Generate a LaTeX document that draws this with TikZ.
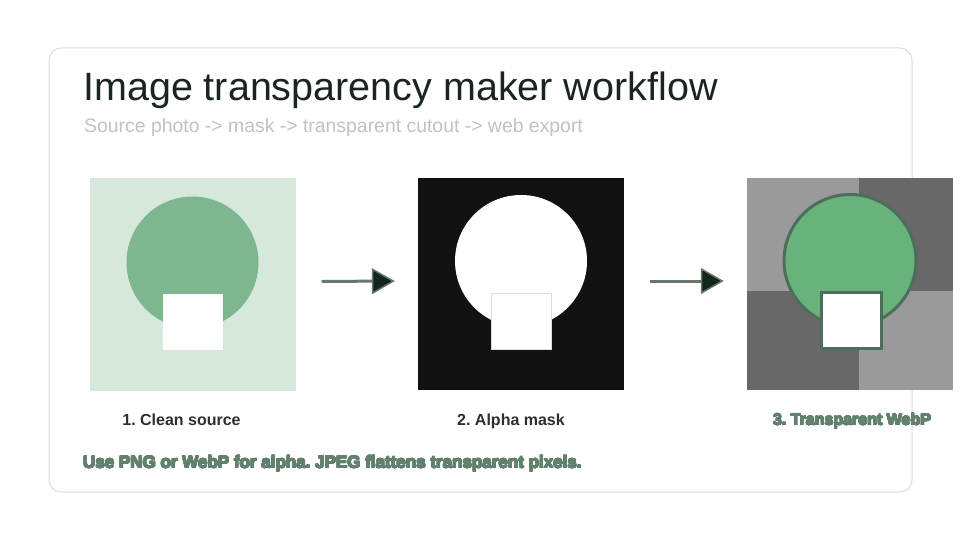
\documentclass[tikz,border=0pt]{standalone}
\usepackage{fontspec}
\setmainfont{Liberation Sans}
\usepackage[copies]{contour}
\contourlength{0.5pt}
\contournumber{16}
\usepackage{tikz}
\usetikzlibrary{arrows.meta, positioning}
\frenchspacing

\definecolor{cardline}{HTML}{DCDCDC}
\definecolor{titleink}{HTML}{1B2520}
\definecolor{subink}{HTML}{C2C2C2}
\definecolor{srcbg}{HTML}{D6E7DC}
\definecolor{srcleaf}{HTML}{7DB68F}
\definecolor{maskbg}{HTML}{121212}
\definecolor{checklight}{HTML}{9A9A9A}
\definecolor{checkdark}{HTML}{686868}
\definecolor{cutleaf}{HTML}{68B27C}
\definecolor{cutedge}{HTML}{4E6E5C}
\definecolor{arrowline}{HTML}{66786C}
\definecolor{arrowhead}{HTML}{13261C}
\definecolor{labelink}{HTML}{2B302D}
\definecolor{noteink}{HTML}{61806E}

\begin{document}
\begin{tikzpicture}[x=1pt, y=-1pt, node distance=22pt,
    panel/.style={rectangle, minimum width=206pt, minimum height=212pt, inner sep=0pt},
    leaf/.style={circle, minimum size=132pt, inner sep=0pt},
    tile/.style={rectangle, fill=white, minimum width=60pt, minimum height=56pt, inner sep=0pt},
    caption/.style={anchor=base, font=\fontsize{16}{18}\selectfont\bfseries, text=labelink, inner sep=0pt},
    line/.style={draw=arrowline, line width=3pt, shorten <=26pt, shorten >=23pt,
        -{Triangle[length=23pt, width=26pt, fill=arrowhead, line width=1.5pt]}}]

    \useasboundingbox (0,0) rectangle (960,540);
    \draw [cardline, fill=white, line width=1pt, rounded corners=12pt] (49,48) rectangle (912,492);

    \node [anchor=base west, inner sep=0pt, text=titleink, font=\fontsize{39.5}{42}\selectfont] (title) at (83,101) {Image transparency maker workflow};
    \node [anchor=base west, inner sep=0pt, text=subink, font=\fontsize{19.4}{21}\selectfont] (subtitle) at (84,133) {Source photo -> mask -> transparent cutout -> web export};

    % source
    \node [panel, fill=srcbg] (source) at (192.5,284.5) {};
    \node [leaf, fill=srcleaf] (sourceleaf) at ([yshift=22pt]source.center) {};
    \node [tile] (sourcetile) at ([yshift=-37pt]source.center) {};

    % mask
    \node [panel, fill=maskbg] (mask) at (521,284) {};
    \node [leaf, fill=white] (maskleaf) at ([yshift=23pt]mask.center) {};
    \node [tile, draw=cardline, line width=0.6pt] (masktile) at ([yshift=-37pt]mask.center) {};

    % cutout
    \node [panel, fill=checklight] (cutout) at (850,284) {};
    \coordinate (split) at ([xshift=9pt, yshift=-7pt]cutout.center);
    \fill [checkdark] (cutout.north east) rectangle (split);
    \fill [checkdark] (cutout.south west) rectangle (split);
    \node [leaf, fill=cutleaf, draw=cutedge, line width=3pt] (cutleaf) at ([yshift=23.5pt]cutout.center) {};
    \node [tile, draw=cutedge, line width=3pt] (cuttile) at ([xshift=1pt, yshift=-36.5pt]cutout.center) {};

    \node [caption] (sourcecap) at ([xshift=-11pt, yshift=-35pt]source.south) {1. Clean source};
    \node [caption] (maskcap) at ([xshift=-10pt, yshift=-35pt]mask.south) {2. Alpha mask};
    \node [caption, text=noteink] (cutcap) at ([xshift=2pt, yshift=-35pt]cutout.south) {\contour{noteink}{3. Transparent WebP}};

    \path [line] ([yshift=3pt]source.east) -- ([yshift=3pt]mask.west);
    \path [line] ([yshift=3pt]mask.east) -- ([yshift=3pt]cutout.west);

    \node [anchor=base west, inner sep=0pt, text=noteink, font=\fontsize{17}{19}\selectfont\bfseries] (note) at (83,468) {\contour{noteink}{Use PNG or WebP for alpha. JPEG flattens transparent pixels.}};
\end{tikzpicture}
\end{document}
